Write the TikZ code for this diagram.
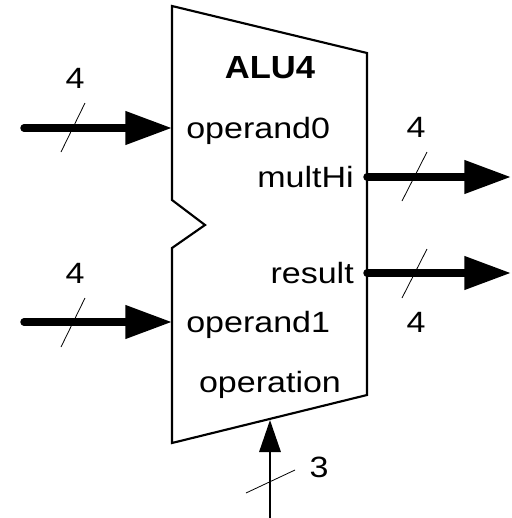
\documentclass[tikz,border=0pt]{standalone}
\usepackage{graphicx}
\usepackage{fontspec}
\setmainfont{Liberation Sans}
\usetikzlibrary{arrows.meta}
\newcommand\wide[1]{\scalebox{1.16}[1]{#1}}
\newcommand\widebf[1]{\scalebox{1.08}[1]{#1}}
\tikzset{
  box/.style={line width=1.6pt, line join=miter},
  bus/.style={line width=5.6pt, line cap=round, -{Triangle[length=35pt,width=24pt]}},
  ctl/.style={line width=1.6pt, -{Triangle[length=24pt,width=16pt]}},
  slash/.style={line width=0.6pt},
  lbl/.style={font=\fontsize{22}{26}\selectfont, inner sep=0pt},
  ttl/.style={font=\fontsize{24}{28}\selectfont\bfseries, inner sep=0pt},
}
\begin{document}
\begin{tikzpicture}[x=0.75pt,y=-0.75pt]
\useasboundingbox (0,0) rectangle (511,518);
% ALU body
\draw[box] (172,6) -- (367,53) -- (367,395) -- (172,443) -- (172,248) -- (205,225) -- (172,200) -- cycle;
% ports
\coordinate (in0) at (172,128);  \coordinate (s0) at (24,128);
\coordinate (in1) at (172,322);  \coordinate (s1) at (24,322);
\coordinate (outHi) at (367,177); \coordinate (eHi) at (511,177);
\coordinate (outR) at (367,273);  \coordinate (eR) at (511,273);
\coordinate (opIn) at (270,420); \coordinate (sOp) at (270,518);
% connectors
\draw[bus] (s0) -- (in0);
\draw[bus] (s1) -- (in1);
\draw[bus] (outHi) -- (eHi);
\draw[bus] (outR) -- (eR);
\draw[ctl] (sOp) -- (opIn);
% bus width marks
\draw[slash] (85,103) -- (61,152);
\draw[slash] (85,298) -- (61,347);
\draw[slash] (427,152) -- (402,201);
\draw[slash] (427,249) -- (402,298);
\draw[slash] (295,470) -- (246,493);
% texts
\node[ttl, anchor=base] (tA) at (270,78) {\widebf{ALU4}};
\node[lbl, anchor=base west] (t0) at (186,138) {\wide{operand0}};
\node[lbl, anchor=base west] (t1) at (186,332) {\wide{operand1}};
\node[lbl, anchor=base east] (tHi) at (354,187) {\wide{multHi}};
\node[lbl, anchor=base east] (tR) at (354,283) {\wide{result}};
\node[lbl, anchor=base] (tOp) at (270,392) {\wide{operation}};
\node[lbl, anchor=base] (n0) at (75,88) {\wide{4}};
\node[lbl, anchor=base] (n1) at (75,283) {\wide{4}};
\node[lbl, anchor=base] (nHi) at (416,137) {\wide{4}};
\node[lbl, anchor=base] (nR) at (416,332) {\wide{4}};
\node[lbl, anchor=base] (nOp) at (319,477) {\wide{3}};
\end{tikzpicture}
\end{document}
